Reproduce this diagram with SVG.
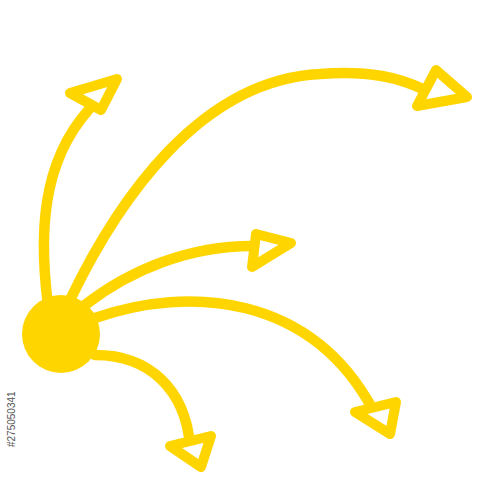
<svg xmlns="http://www.w3.org/2000/svg" width="500" height="500" viewBox="0 0 500 500">
<style>
.ln{fill:none;stroke:#FFD500;stroke-width:10.5;stroke-linecap:round}
.hd{fill:#fff;stroke:#FFD500;stroke-width:10;stroke-linejoin:round}
.wm{font-family:"Liberation Sans",Arial,sans-serif;font-size:10px;fill:#555}
</style>
<rect width="500" height="500" fill="#fff"/>
<g id="connectors">
<path class="ln" d="M 48 305 C 37 220, 46 150, 98 100"/>
<path class="ln" d="M 70 300 C 118 200, 200 80, 320 74 C 370 70, 400 78, 425 90"/>
<path class="ln" d="M 85 305 C 130 270, 190 245, 256 246"/>
<path class="ln" d="M 95 318 C 190 285, 310 295, 372 408"/>
<path class="ln" d="M 95 355 C 150 355, 185 390, 190 445"/>
<polygon class="hd" points="70,93 117,79 101,110"/>
<polygon class="hd" points="436,70 467,97 417,106"/>
<polygon class="hd" points="256,234 291,243 252,267"/>
<polygon class="hd" points="355,412 396,402 390,434"/>
<polygon class="hd" points="170,446 211,436 201,467"/>
</g>
<g id="hub">
<circle cx="61" cy="334" r="39" fill="#FFD500"/>
</g>
<text class="wm" transform="translate(15,447) rotate(-90)">#275050341</text>
</svg>
